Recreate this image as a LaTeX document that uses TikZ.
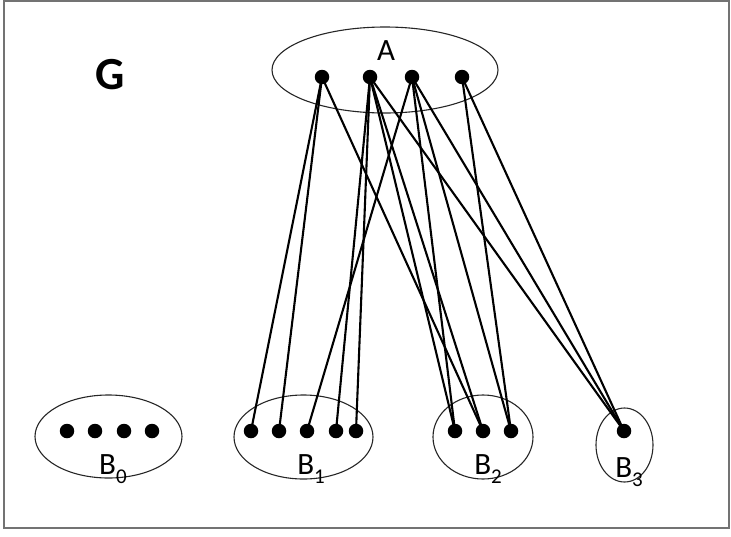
\documentclass[tikz,border=0pt]{standalone}
\usepackage{fontspec}
\setmainfont{Carlito}
\usetikzlibrary{shapes.geometric}
\newcommand{\blab}[1]{B\raisebox{-0.3em}{\fontsize{21}{21}\selectfont #1}}
\begin{document}
\begin{tikzpicture}[x=1pt,y=-1pt,
  dot/.style={circle,fill=black,inner sep=0pt,minimum size=14.5pt},
  grp/.style={ellipse,draw=black!85,line width=1.1pt,inner sep=0pt},
  lab/.style={font=\fontsize{31}{31}\selectfont,inner sep=0pt},
  edge/.style={line width=2.1pt,black}]
\useasboundingbox (0,0) rectangle (731,536);
\node[draw=black!55,line width=2pt,minimum width=725pt,minimum height=527pt,inner sep=0pt] (frame) at (366.5,264.5) {};
% group ellipses
\node[grp,minimum width=226pt,minimum height=86pt] (A) at (385,70) {};
\node[grp,minimum width=147pt,minimum height=83pt] (B0) at (108.5,436.5) {};
\node[grp,minimum width=139pt,minimum height=84pt] (B1) at (303.5,437) {};
\node[grp,minimum width=100pt,minimum height=84pt] (B2) at (483,437) {};
\node[grp,minimum width=57pt,minimum height=74pt] (B3) at (624.5,445) {};
% labels
\node[font=\bfseries\fontsize{46}{46}\selectfont,inner sep=0pt] (G) at (110,75) {G};
\node[lab] (lA) at (386,51) {A};
\node[lab] (l0) at (113,469) {\blab{0}};
\node[lab] (l1) at (311,469) {\blab{1}};
\node[lab] (l2) at (488,469) {\blab{2}};
\node[lab] (l3) at (629,472) {\blab{3}};
% dots
\node[dot] (a1) at (322,77) {};
\node[dot] (a2) at (370,77) {};
\node[dot] (a3) at (412,77) {};
\node[dot] (a4) at (462,77) {};
\node[dot] (z1) at (67,431) {};
\node[dot] (z2) at (95,431) {};
\node[dot] (z3) at (124,431) {};
\node[dot] (z4) at (152,431) {};
\node[dot] (p1) at (251,431) {};
\node[dot] (p2) at (279,431) {};
\node[dot] (p3) at (307,431) {};
\node[dot] (p4) at (336,431) {};
\node[dot] (p5) at (356,431) {};
\node[dot] (q1) at (455,431) {};
\node[dot] (q2) at (483,431) {};
\node[dot] (q3) at (511,431) {};
\node[dot] (r1) at (624,431) {};
% edges
\foreach \u/\v in {a1/p1,a1/p2,a1/q2,
                   a2/p4,a2/p5,a2/q1,a2/q2,a2/r1,
                   a3/p3,a3/q1,a3/q3,a3/r1,
                   a4/q3,a4/r1}
  \draw[edge] (\u.center) -- (\v.center);
\end{tikzpicture}
\end{document}
